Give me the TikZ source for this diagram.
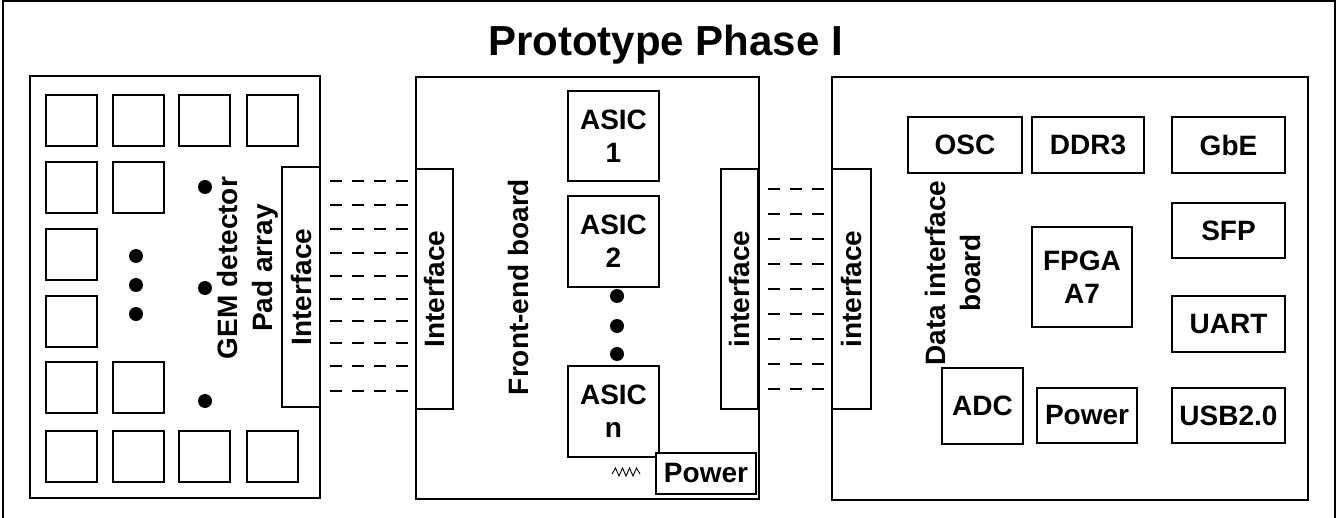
\documentclass[tikz,border=0pt]{standalone}
\usepackage{fontspec}
\setmainfont{Liberation Sans}
\begin{document}
\begin{tikzpicture}[x=1pt,y=-1pt,
  box/.style={draw,line width=1.3pt,fill=white,inner sep=0pt,outer sep=0pt,align=center,font=\fontsize{28}{33}\selectfont\bfseries},
  lbl/.style={inner sep=0pt,align=center,font=\fontsize{28}{35}\selectfont\bfseries},
  frame/.style={draw,line width=1.5pt},
  dot/.style={circle,fill=black,inner sep=0pt,minimum size=14pt},
  wire/.style={line width=1.1pt,dash pattern=on 12pt off 10pt,dash phase=12pt}]
\newcommand{\bx}[7][]{\node[box,#1,anchor=north west,minimum width={#5-#3},minimum height={#6-#4}] (#2) at (#3,#4) {#7};}
\useasboundingbox (0,0) rectangle (1343,518);
\draw[frame] (3,1) rectangle (1335,540);
\node[inner sep=0pt,anchor=base,font=\fontsize{42}{44}\selectfont\bfseries] (title) at (665.5,56) {Prototype Phase I};
% ---- left: GEM detector pad array
\bx{gem}{30}{76}{320}{498}{}
\foreach \r/\y/\cols in {1/95/{1,2,3,4},2/162/{1,2},3/229/{1},4/296/{1},5/362/{1,2},6/431/{1,2,3,4}}{
  \foreach \c in \cols {
    \pgfmathsetmacro{\xx}{{46,113,179,247}[\c-1]}
    \node[box,anchor=north west,minimum width=51pt,minimum height=51pt] (pad-\r-\c) at (\xx,\y) {};
  }
}
\foreach \i/\x/\y in {1/136/256,2/136/285,3/136/314,4/205/187,5/205/288,6/205/401}{
  \node[dot] (gdot\i) at (\x,\y) {};
}
\node[lbl,rotate=90] (gemlbl) at (248,268) {GEM detector\\Pad array};
\bx{ifA}{282}{167}{320}{407}{}
\node[lbl,rotate=90] at (ifA.center) {Interface};
% ---- front-end board
\bx{fe}{416}{77}{759}{499}{}
\bx{ifB}{416}{169}{453}{409}{}
\node[lbl,rotate=90] at (ifB.center) {Interface};
\bx{ifC}{721}{169}{758}{409}{}
\node[lbl,rotate=90] at (ifC.center) {interface};
\node[lbl,rotate=90] (felbl) at (518,287) {Front-end board};
\bx{asic1}{568}{91}{659}{181}{ASIC\\1}
\bx{asic2}{568}{196}{659}{287}{ASIC\\2}
\bx{asicn}{568}{366}{659}{457}{ASIC\\n}
\foreach \i/\y in {1/296,2/326,3/354}{ \node[dot] (adot\i) at (617,\y) {}; }
\bx{fepow}{656}{453}{756}{494}{Power}
\draw[line width=0.9pt,line join=miter] (612,474) -- (615.5,468) -- (619,476) -- (622.5,468) -- (626,476) -- (629.5,468) -- (633,476) -- (636.5,468) -- (640,474);
% ---- data interface board
\bx{db}{832}{77}{1308}{500}{}
\bx{ifD}{832}{169}{871}{409}{}
\node[lbl,rotate=90] at (ifD.center) {interface};
\node[lbl,rotate=90] (dblbl) at (953,273) {Data interface\\board};
\bx{osc}{908}{117}{1022}{173}{OSC}
\bx{ddr}{1032}{117}{1144}{173}{DDR3}
\bx{gbe}{1172}{117}{1285}{173}{GbE}
\bx{sfp}{1172}{203}{1285}{258}{SFP}
\bx{fpga}{1032}{227}{1132}{327}{FPGA\\A7}
\bx{uart}{1172}{296}{1285}{352}{UART}
\bx{adc}{942}{368}{1023}{444}{ADC}
\bx{dbpow}{1037}{388}{1137}{443}{Power}
\bx{usb}{1172}{388}{1285}{443}{USB2.0}
% ---- dashed connections
\foreach \y in {181,205,229,253,276,299,321,343,366,391}{
  \coordinate (l1) at (ifA.east |- 0,\y);
  \coordinate (l2) at (ifB.west |- 0,\y);
  \draw[wire] (l1) -- (l2);
}
\foreach \y in {189,214,239,264,289,314,339,364,389}{
  \coordinate (r1) at (ifC.east |- 0,\y);
  \coordinate (r2) at (ifD.west |- 0,\y);
  \draw[wire] (r1) -- (r2);
}
\end{tikzpicture}
\end{document}
